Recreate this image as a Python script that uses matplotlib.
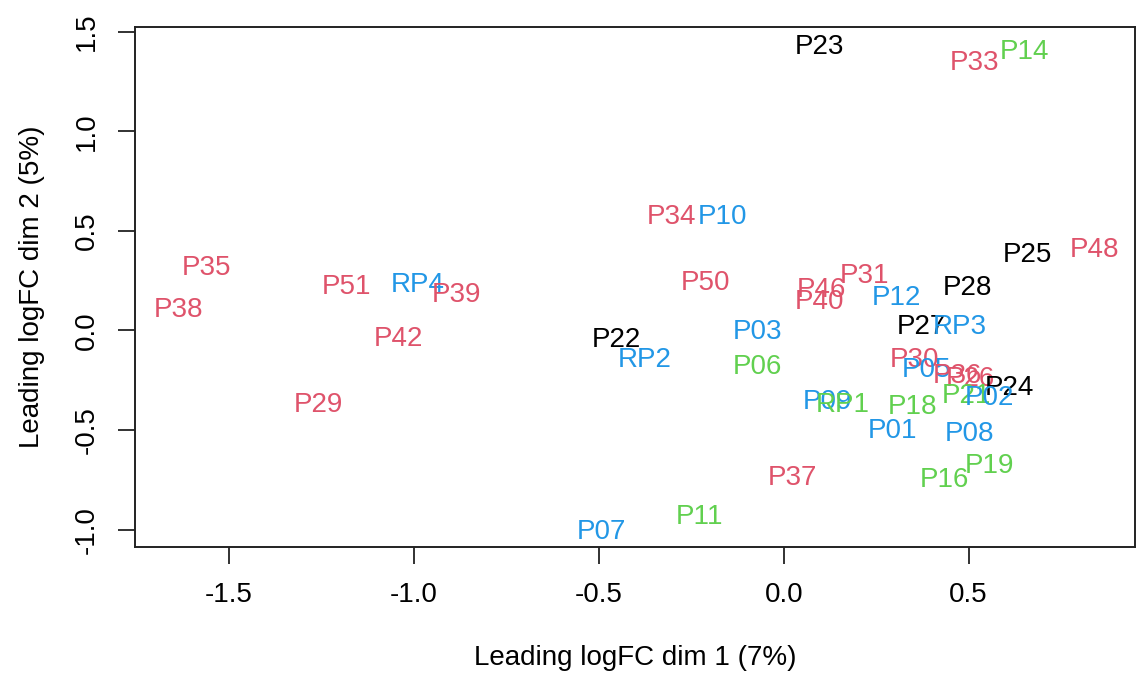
import matplotlib
matplotlib.use("Agg")
import matplotlib.pyplot as plt

# ------------------------------
# Data: MDS coordinates
# ------------------------------
labels = ["P23", "P33", "P14", "P34", "P10", "P35", "P25", "P48", "P51", "RP4",
          "P39", "P50", "P31", "P46", "P40", "P12", "P28", "P38", "P42", "P22",
          "P03", "P27", "RP3", "RP2", "P06", "P30", "P05", "P36", "P26", "P24",
          "P21", "P02", "P29", "P09", "RP1", "P18", "P01", "P08", "P19", "P16",
          "P37", "P11", "P07"]
dim1 = [0.097, 0.516, 0.652, -0.303, -0.165, -1.560, 0.660, 0.841, -1.182, -0.990,
        -0.884, -0.211, 0.219, 0.103, 0.097, 0.306, 0.498, -1.636, -1.041, -0.452,
        -0.070, 0.373, 0.476, -0.376, -0.070, 0.354, 0.387, 0.470, 0.505, 0.611,
        0.495, 0.557, -1.257, 0.119, 0.160, 0.349, 0.295, 0.503, 0.557, 0.435,
        0.024, -0.227, -0.492]
dim2 = [1.423, 1.343, 1.398, 0.570, 0.570, 0.314, 0.379, 0.404, 0.219, 0.229,
        0.179, 0.239, 0.274, 0.204, 0.144, 0.164, 0.214, 0.103, -0.042, -0.047,
        -0.007, 0.018, 0.018, -0.148, -0.183, -0.148, -0.198, -0.228, -0.243, -0.288,
        -0.328, -0.338, -0.373, -0.358, -0.373, -0.383, -0.504, -0.519, -0.679, -0.750,
        -0.740, -0.935, -1.010]
group = [1, 2, 3, 2, 4, 2, 1, 2, 2, 4,
         2, 2, 2, 2, 2, 4, 1, 2, 2, 1,
         4, 1, 4, 4, 3, 2, 4, 2, 2, 1,
         3, 4, 2, 4, 3, 3, 4, 4, 3, 3,
         2, 3, 4]

# R 4.x default palette
palette = {1: "#000000", 2: "#DF536B", 3: "#61D04F", 4: "#2297E6"}

# ------------------------------
# Plot
# ------------------------------
plt.rcParams["font.family"] = ["Liberation Sans", "DejaVu Sans"]

fig = plt.figure(figsize=(11.36, 6.75), dpi=100)
ax = fig.add_axes([0.1188, 0.1896, 0.8804, 0.7704])

for lab, x, y, g in zip(labels, dim1, dim2, group):
    ax.text(x, y, lab, color=palette[g], fontsize=20,
            ha="center", va="center")

ax.set_xlim(-1.754, 0.95)
ax.set_ylim(-1.087, 1.523)

ax.set_xticks([-1.5, -1.0, -0.5, 0.0, 0.5])
ax.set_xticklabels(["-1.5", "-1.0", "-0.5", "0.0", "0.5"])
ax.set_yticks([-1.0, -0.5, 0.0, 0.5, 1.0, 1.5])
ax.set_yticklabels(["-1.0", "-0.5", "0.0", "0.5", "1.0", "1.5"],
                   rotation=90, va="center")
ax.tick_params(axis="both", labelsize=20, length=12, width=1.3,
               color="#222222", pad=13)

for s in ax.spines.values():
    s.set_linewidth(1.4)
    s.set_color("#222222")

ax.set_xlabel("Leading logFC dim 1 (7%)", fontsize=20, labelpad=27)
ax.set_ylabel("Leading logFC dim 2 (5%)", fontsize=20, labelpad=21)

fig.savefig("out.png", dpi=100)
